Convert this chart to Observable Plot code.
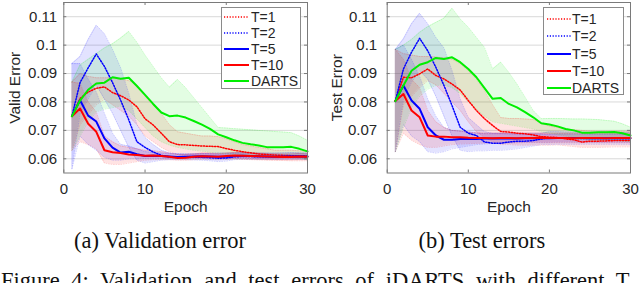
<!DOCTYPE html>
<html>
<head>
<meta charset="utf-8">
<script src="https://cdn.jsdelivr.net/npm/d3@7"></script>
<script src="https://cdn.jsdelivr.net/npm/@observablehq/plot@0.6"></script>
<style>
  html, body { margin: 0; padding: 0; background: #fff; }
  #root { position: relative; width: 640px; height: 283px; overflow: hidden; background: #fff; }
  .panel { position: absolute; top: 0; }
  .legend { position: absolute; background: #fff; border: 1px solid #8a8a8a; box-sizing: border-box;
            font-family: "Liberation Sans", Arial, sans-serif; font-size: 14px; color: #262626; }
  .legend .row { position: absolute; left: 0; height: 16px; display: flex; align-items: center; white-space: nowrap; }
  .cap { position: absolute; font-family: "Liberation Serif", "Times New Roman", serif; font-size: 22.5px;
         color: #111; white-space: nowrap; line-height: 1; }
</style>
</head>
<body>
<div id="root"></div>
<script>
// ---------- data ----------
const epochs = [1,2,3,4,5,6,7,8,9,10,11,12,13,14,15,16,17,18,19,20,21,22,23,24,25,26,27,28,29,30];
const seriesNames = ["T=1", "T=2", "T=5", "T=10", "DARTS"];
const seriesColors = ["#ff0000", "#0000ff", "#0000ff", "#ff0000", "#00ee00"];
const seriesDash = ["1.2,1.6", "1.2,1.6", null, null, null];
const xTicks = [0, 10, 20, 30];
const xTickLabels = ["0", "10", "20", "30"];
const yTicks = [0.06, 0.07, 0.08, 0.09, 0.1, 0.11];
const yTickLabels = ["0.06", "0.07", "0.08", "0.09", "0.1", "0.11"];

// (a) validation error: means
const valT1 = [0.075,0.0812,0.0835,0.0848,0.0853,0.0833,0.0822,0.0807,0.0783,0.0741,0.0719,0.069,0.066,0.065,0.0649,0.0647,0.0645,0.0644,0.0643,0.0636,0.063,0.0625,0.0621,0.0617,0.0615,0.0613,0.0612,0.0611,0.0611,0.061];
const valT2 = [0.075,0.0868,0.092,0.0969,0.0925,0.0868,0.0806,0.0737,0.066,0.064,0.0624,0.0612,0.0607,0.0606,0.0606,0.0606,0.0605,0.0604,0.0602,0.0603,0.0607,0.0608,0.0608,0.0607,0.0607,0.0607,0.0608,0.0608,0.0607,0.0607];
const valT5 = [0.075,0.0806,0.0752,0.0731,0.0672,0.0639,0.0622,0.0625,0.0616,0.061,0.0611,0.061,0.0608,0.0606,0.0607,0.0608,0.0609,0.0608,0.0607,0.0608,0.061,0.0611,0.061,0.0609,0.0608,0.0607,0.0607,0.0608,0.0609,0.0608];
const valT10 = [0.075,0.0777,0.0723,0.0695,0.063,0.0623,0.062,0.0615,0.0613,0.0611,0.0612,0.061,0.0607,0.0603,0.0604,0.0607,0.0609,0.0608,0.0607,0.061,0.0612,0.0611,0.061,0.0609,0.0608,0.0607,0.0606,0.0606,0.0608,0.0607];
const valDARTS = [0.075,0.0805,0.0843,0.0865,0.0868,0.0887,0.0882,0.0885,0.0856,0.0825,0.0793,0.0763,0.075,0.0752,0.0745,0.0733,0.072,0.0705,0.0686,0.0676,0.0665,0.0656,0.0651,0.0647,0.0641,0.0641,0.0641,0.0642,0.0635,0.0626];
// (a) validation error: shaded band bounds
const valT1Lo = [0.063,0.072,0.0755,0.079,0.081,0.079,0.077,0.075,0.072,0.068,0.066,0.064,0.0625,0.0615,0.061,0.061,0.061,0.061,0.0605,0.06,0.06,0.0598,0.0597,0.0596,0.0595,0.0594,0.0594,0.0593,0.0593,0.0593];
const valT1Hi = [0.087,0.09,0.089,0.0885,0.0885,0.0885,0.088,0.0875,0.086,0.082,0.079,0.076,0.072,0.0695,0.069,0.0685,0.068,0.068,0.0678,0.067,0.066,0.065,0.0645,0.064,0.0635,0.063,0.063,0.063,0.0628,0.0627];
const valT2Lo = [0.0565,0.076,0.081,0.086,0.081,0.076,0.07,0.064,0.0595,0.0585,0.059,0.0595,0.0597,0.0597,0.0597,0.0596,0.0595,0.0593,0.059,0.0592,0.0597,0.0598,0.0598,0.0598,0.0598,0.0598,0.0598,0.0598,0.0598,0.0597];
const valT2Hi = [0.0935,0.096,0.102,0.107,0.104,0.0985,0.092,0.083,0.072,0.0675,0.065,0.063,0.062,0.0618,0.0617,0.0617,0.0618,0.0619,0.062,0.062,0.0622,0.0622,0.0621,0.062,0.062,0.062,0.0621,0.0622,0.0621,0.062];
const valT5Lo = [0.0565,0.068,0.065,0.063,0.0605,0.0595,0.0595,0.06,0.06,0.0601,0.0602,0.0601,0.06,0.06,0.06,0.0601,0.0601,0.06,0.06,0.06,0.0601,0.0602,0.0601,0.06,0.06,0.0599,0.0599,0.06,0.06,0.06];
const valT5Hi = [0.0935,0.0935,0.088,0.0835,0.076,0.069,0.065,0.0645,0.0635,0.0625,0.0622,0.062,0.0618,0.0616,0.0616,0.0617,0.0618,0.0617,0.0616,0.0617,0.0619,0.062,0.0619,0.0618,0.0617,0.0616,0.0616,0.0617,0.0618,0.0617];
const valT10Lo = [0.063,0.066,0.065,0.0635,0.0585,0.058,0.058,0.0585,0.059,0.0595,0.0597,0.0597,0.0597,0.0595,0.0595,0.0597,0.0598,0.0598,0.0597,0.0598,0.06,0.06,0.0599,0.0598,0.0597,0.0597,0.0596,0.0596,0.0597,0.0597];
const valT10Hi = [0.087,0.0865,0.08,0.0765,0.068,0.066,0.0645,0.064,0.0635,0.063,0.0628,0.0625,0.062,0.0615,0.0615,0.0617,0.062,0.062,0.0618,0.062,0.0623,0.0622,0.0621,0.062,0.0619,0.0618,0.0617,0.0617,0.0619,0.0618];
const valDARTSLo = [0.063,0.068,0.073,0.0765,0.0775,0.078,0.0785,0.077,0.074,0.071,0.068,0.066,0.0648,0.064,0.0635,0.063,0.0627,0.0623,0.062,0.0618,0.0615,0.0612,0.061,0.061,0.0608,0.0607,0.0606,0.0605,0.0603,0.0598];
const valDARTSHi = [0.087,0.093,0.095,0.097,0.099,0.1005,0.1025,0.1048,0.101,0.0965,0.0925,0.0885,0.0852,0.0879,0.085,0.0815,0.078,0.0745,0.071,0.0708,0.0706,0.0704,0.0702,0.07,0.0698,0.0696,0.0694,0.0692,0.068,0.0665];

// (b) test errors: means
const tstT1 = [0.0803,0.0887,0.0885,0.0899,0.0916,0.0893,0.0881,0.0863,0.0842,0.0805,0.077,0.0741,0.0717,0.0696,0.0694,0.069,0.0688,0.0684,0.0678,0.0676,0.0675,0.067,0.0667,0.0659,0.0662,0.0662,0.0663,0.0664,0.0664,0.0664];
const tstT2 = [0.0803,0.0916,0.0975,0.1024,0.098,0.0922,0.0858,0.0787,0.0711,0.069,0.0682,0.0659,0.0655,0.0655,0.0659,0.0662,0.0662,0.0664,0.067,0.0674,0.0673,0.0672,0.0672,0.0671,0.0671,0.0671,0.0671,0.0671,0.0671,0.0671];
const tstT5 = [0.0803,0.0858,0.0805,0.0776,0.0711,0.0682,0.0667,0.0667,0.067,0.067,0.067,0.0671,0.0671,0.0671,0.0671,0.0671,0.0672,0.0672,0.0672,0.0672,0.0673,0.0673,0.0673,0.0673,0.0672,0.0672,0.0672,0.0672,0.0672,0.0672];
const tstT10 = [0.0803,0.0828,0.077,0.0746,0.0682,0.0678,0.0678,0.0676,0.0676,0.0674,0.0673,0.0673,0.0672,0.0673,0.0673,0.0672,0.0673,0.0673,0.0674,0.0673,0.0673,0.0673,0.0672,0.0673,0.0673,0.0673,0.0672,0.0673,0.0673,0.0673];
const tstDARTS = [0.0803,0.0858,0.091,0.0931,0.094,0.0955,0.0951,0.0957,0.094,0.0916,0.0887,0.0849,0.0811,0.0814,0.0793,0.0781,0.0764,0.0746,0.0725,0.0721,0.0714,0.0705,0.07,0.0692,0.0692,0.0693,0.0693,0.0694,0.069,0.0682];
// (b) test errors: shaded band bounds
const tstT1Lo = [0.0625,0.079,0.082,0.085,0.0875,0.086,0.083,0.08,0.077,0.073,0.0695,0.0675,0.066,0.065,0.065,0.0648,0.0648,0.0648,0.0648,0.0648,0.0649,0.0646,0.0643,0.064,0.064,0.064,0.0641,0.0642,0.0642,0.0642];
const tstT1Hi = [0.0985,0.097,0.0965,0.096,0.096,0.0958,0.0955,0.095,0.0935,0.091,0.088,0.084,0.079,0.0745,0.0742,0.0742,0.074,0.0738,0.0725,0.0715,0.071,0.0705,0.0702,0.07,0.0698,0.0697,0.0697,0.0697,0.0697,0.0697];
const tstT2Lo = [0.0625,0.081,0.087,0.091,0.088,0.082,0.075,0.068,0.063,0.0625,0.0628,0.0628,0.063,0.063,0.0632,0.0635,0.064,0.0645,0.065,0.065,0.0651,0.0651,0.0651,0.0651,0.0651,0.0651,0.0651,0.0651,0.0651,0.0651];
const tstT2Hi = [0.0985,0.1022,0.1075,0.1112,0.1075,0.1027,0.099,0.091,0.081,0.0745,0.072,0.0695,0.069,0.069,0.069,0.069,0.069,0.069,0.069,0.0695,0.0695,0.0694,0.0694,0.0693,0.0693,0.0693,0.0693,0.0693,0.0693,0.0693];
const tstT5Lo = [0.0625,0.072,0.068,0.066,0.0625,0.062,0.0625,0.0635,0.064,0.0645,0.065,0.0652,0.0654,0.0655,0.0656,0.0657,0.0658,0.0658,0.0658,0.0658,0.0659,0.0659,0.0659,0.0659,0.0658,0.0658,0.0658,0.0658,0.0658,0.0658];
const tstT5Hi = [0.0985,0.1,0.095,0.089,0.081,0.075,0.071,0.07,0.0697,0.0694,0.069,0.0688,0.0688,0.0688,0.0687,0.0686,0.0686,0.0686,0.0686,0.0686,0.0687,0.0687,0.0687,0.0687,0.0686,0.0686,0.0686,0.0686,0.0686,0.0686];
const tstT10Lo = [0.0625,0.069,0.0665,0.065,0.064,0.064,0.0645,0.065,0.0652,0.0653,0.0654,0.0655,0.0655,0.0656,0.0656,0.0656,0.0657,0.0657,0.0657,0.0657,0.0657,0.0657,0.0657,0.0657,0.0657,0.0657,0.0657,0.0657,0.0657,0.0657];
const tstT10Hi = [0.0985,0.095,0.088,0.085,0.077,0.073,0.071,0.07,0.0697,0.0694,0.0692,0.069,0.069,0.069,0.069,0.069,0.069,0.069,0.069,0.069,0.069,0.069,0.069,0.069,0.069,0.069,0.069,0.069,0.069,0.069];
const tstDARTSLo = [0.0625,0.071,0.078,0.082,0.0845,0.0858,0.086,0.085,0.083,0.08,0.0775,0.075,0.073,0.0725,0.072,0.0715,0.071,0.0705,0.0695,0.069,0.0685,0.068,0.0675,0.067,0.0665,0.0665,0.0665,0.0665,0.0662,0.066];
const tstDARTSHi = [0.0985,0.1,0.102,0.1045,0.1065,0.108,0.1095,0.113,0.1092,0.1063,0.1027,0.0992,0.0916,0.094,0.0904,0.0863,0.0817,0.077,0.0741,0.0742,0.0742,0.0741,0.074,0.074,0.0739,0.0738,0.0735,0.0732,0.0723,0.0711];

const captionA = "(a) Validation error";
const captionB = "(b) Test errors";
const figureCaption = "Figure 4: Validation and test errors of iDARTS with different T";

// ---------- build ----------
const root = document.getElementById("root");
const axisFont = '"Liberation Sans", Arial, Helvetica, sans-serif';
const ink = "#262626";

function rowsFor(means, lo, hi) {
  return epochs.map((e, i) => ({epoch: e, mean: means[i], lo: lo[i], hi: hi[i]}));
}

function panel({left, means, los, his, ylabel, mLeft, mRight, yPad, ylabelX}) {
  const W = 320, H = 218, mTop = 2, mBottom = 45.5;
  const frameW = W - mLeft - mRight, frameH = H - mTop - mBottom;
  const series = seriesNames.map((n, i) => ({name: n, color: seriesColors[i], dash: seriesDash[i],
    rows: rowsFor(means[i], los[i], his[i])}));
  const marks = [Plot.gridY(yTicks, {stroke: "#d9d9d9", strokeOpacity: 1, strokeWidth: 1})];
  for (const s of series) {
    marks.push(Plot.areaY(s.rows, {x: "epoch", y1: "lo", y2: "hi", fill: s.color, fillOpacity: 0.11}));
  }
  for (const s of series) {
    for (const k of ["lo", "hi"]) {
      marks.push(Plot.lineY(s.rows, {x: "epoch", y: k, stroke: s.color, strokeOpacity: 0.22,
        strokeWidth: 0.8, strokeDasharray: "1,1.5"}));
    }
  }
  for (const s of series) {
    marks.push(Plot.lineY(s.rows, {x: "epoch", y: "mean", stroke: s.color,
      strokeWidth: s.dash ? 1.5 : 2, strokeDasharray: s.dash || undefined}));
  }
  marks.push(Plot.frame({stroke: "#7a7a7a", strokeWidth: 1}));
  const tk = {stroke: "#7a7a7a", strokeWidth: 1};
  marks.push(Plot.tickX(xTicks, {x: d => d, insetTop: frameH - 3, ...tk}));
  marks.push(Plot.tickX(xTicks, {x: d => d, insetBottom: frameH - 3, ...tk}));
  marks.push(Plot.tickY(yTicks, {y: d => d, insetRight: frameW - 3, ...tk}));
  marks.push(Plot.tickY(yTicks, {y: d => d, insetLeft: frameW - 3, ...tk}));
  marks.push(Plot.axisX(xTicks, {tickSize: 0, tickPadding: 10, label: null, fill: ink,
    tickFormat: (d) => xTickLabels[xTicks.indexOf(d)]}));
  marks.push(Plot.axisY(yTicks, {tickSize: 0, tickPadding: yPad, label: null, fill: ink,
    tickFormat: (d) => yTickLabels[yTicks.indexOf(d)]}));
  marks.push(Plot.text(["Epoch"], {frameAnchor: "bottom", dy: 34.5, lineAnchor: "middle",
    fontSize: 15.5, fill: ink}));
  marks.push(Plot.text([ylabel], {frameAnchor: "left", dx: ylabelX - mLeft, rotate: -90,
    lineAnchor: "middle", textAnchor: "middle", fontSize: 15.5, fill: ink}));
  const svg = Plot.plot({
    width: W, height: H,
    marginLeft: mLeft, marginRight: mRight, marginTop: mTop, marginBottom: mBottom,
    x: {domain: [0, 30], label: null, axis: null},
    y: {domain: [0.055, 0.115], label: null, axis: null},
    style: {fontFamily: axisFont, fontSize: "15px", color: ink, background: "transparent", overflow: "visible"},
    marks
  });
  const wrap = document.createElement("div");
  wrap.className = "panel";
  wrap.style.left = left + "px";
  wrap.appendChild(svg);
  root.appendChild(wrap);
}

function legend({left, top, width, height, rowTop, rowStep, lineX0, lineX1, textX}) {
  const box = document.createElement("div");
  box.className = "legend";
  Object.assign(box.style, {left: left + "px", top: top + "px", width: width + "px", height: height + "px"});
  seriesNames.forEach((n, i) => {
    const row = document.createElement("div");
    row.className = "row";
    row.style.top = (rowTop + i * rowStep - 8) + "px";
    const ns = "http://www.w3.org/2000/svg";
    const s = document.createElementNS(ns, "svg");
    s.setAttribute("width", textX);
    s.setAttribute("height", 16);
    const l = document.createElementNS(ns, "line");
    l.setAttribute("x1", lineX0); l.setAttribute("x2", lineX1);
    l.setAttribute("y1", 8); l.setAttribute("y2", 8);
    l.setAttribute("stroke", seriesColors[i]);
    l.setAttribute("stroke-width", seriesDash[i] ? 1.5 : 2);
    if (seriesDash[i]) l.setAttribute("stroke-dasharray", seriesDash[i]);
    s.appendChild(l);
    const t = document.createElement("span");
    t.textContent = n;
    row.appendChild(s);
    row.appendChild(t);
    box.appendChild(row);
  });
  root.appendChild(box);
}

function caption(text, x, top, anchor, extra) {
  const d = document.createElement("div");
  d.className = "cap";
  d.textContent = text;
  d.style.top = top + "px";
  if (extra) Object.assign(d.style, extra);
  root.appendChild(d);
  if (anchor === "middle") d.style.left = (x - d.offsetWidth / 2) + "px";
  else d.style.left = x + "px";
}

panel({left: 0, ylabel: "Valid Error", mLeft: 63.3, mRight: 13, yPad: 6.6, ylabelX: 15,
  means: [valT1, valT2, valT5, valT10, valDARTS],
  los: [valT1Lo, valT2Lo, valT5Lo, valT10Lo, valDARTSLo],
  his: [valT1Hi, valT2Hi, valT5Hi, valT10Hi, valDARTSHi]});
panel({left: 320, ylabel: "Test Error", mLeft: 66.7, mRight: 10, yPad: 10, ylabelX: 16.7,
  means: [tstT1, tstT2, tstT5, tstT10, tstDARTS],
  los: [tstT1Lo, tstT2Lo, tstT5Lo, tstT10Lo, tstDARTSLo],
  his: [tstT1Hi, tstT2Hi, tstT5Hi, tstT10Hi, tstDARTSHi]});

legend({left: 221, top: 7, width: 80, height: 82, rowTop: 9, rowStep: 16, lineX0: 2, lineX1: 27, textX: 29});
legend({left: 543, top: 7, width: 81, height: 88, rowTop: 11, rowStep: 17.25, lineX0: 3, lineX1: 27, textX: 28});

caption(captionA, 160, 230, "middle");
caption(captionB, 482, 230, "middle");
caption(figureCaption, 1, 270, "left", {wordSpacing: "6px"});
</script>
</body>
</html>
